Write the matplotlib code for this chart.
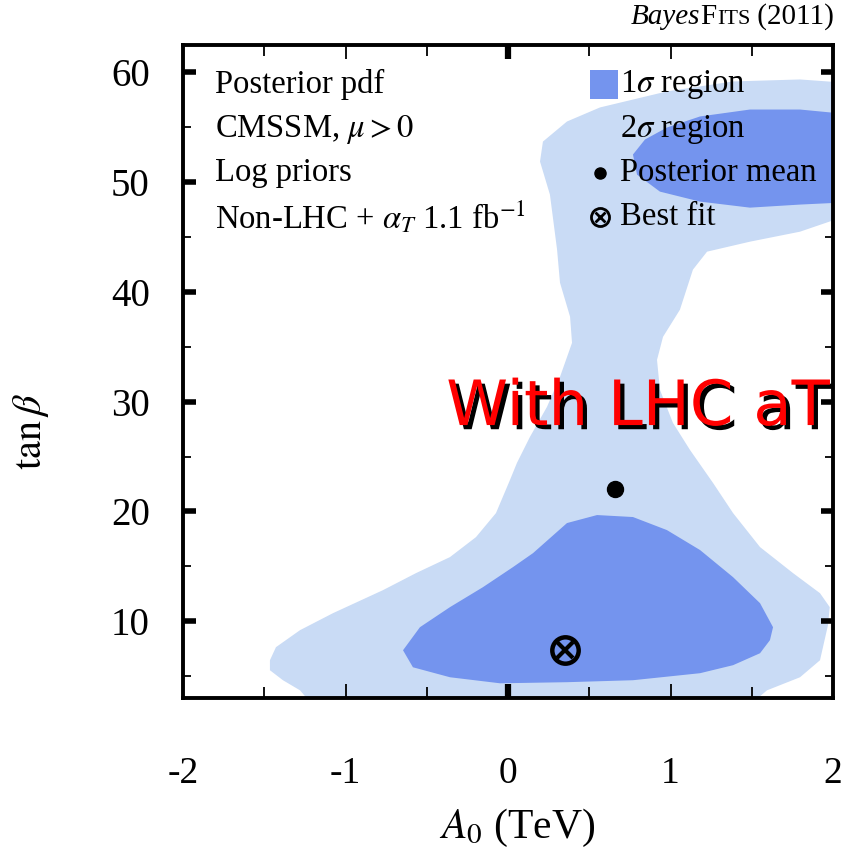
import matplotlib
matplotlib.use("Agg")
import matplotlib.pyplot as plt
from matplotlib.patches import Polygon, Rectangle
import matplotlib.patheffects as pe
from matplotlib.offsetbox import TextArea, HPacker, AnchoredOffsetbox

plt.rcParams['font.family'] = ['Liberation Serif', 'DejaVu Serif']
plt.rcParams['mathtext.fontset'] = 'stix'

# 2-sigma credible region outline (A0 in TeV, tan beta)
sigma2_a0 = [-1.465, -1.428, -1.28, -1.077, -0.769, -0.566, -0.357, -0.197, -0.074,
             0.012, 0.055, 0.135, 0.240, 0.320, 0.394, 0.382, 0.320, 0.302, 0.258,
             0.197, 0.215, 0.363, 0.566, 0.978, 1.385, 1.797, 2.05,
             2.05, 1.797, 1.489, 1.225, 1.138, 1.058, 0.954, 0.917, 0.935, 1.015,
             1.120, 1.262, 1.385, 1.551, 1.754, 1.92, 1.98, 1.969, 1.92, 1.797,
             1.594, 1.458, -1.182, -1.28, -1.385, -1.465]
sigma2_tanb = [6.44, 7.63, 9.18, 10.73, 12.83, 14.38, 15.84, 17.66, 19.85,
               22.86, 24.42, 26.79, 29.53, 32.26, 35.36, 37.74, 40.84, 43.85, 48.87,
               51.88, 53.70, 55.53, 56.81, 58.27, 59.18, 59.36, 59.09,
               46.77, 45.49, 44.58, 43.67, 42.03, 38.38, 35.91, 33.81, 31.08, 28.07,
               25.60, 22.59, 19.85, 16.75, 14.38, 12.55, 11.28, 9.63, 6.44, 4.89,
               3.70, 2.0, 2.0, 3.70, 4.62, 5.53]

# 1-sigma credible region, low tan beta island
sigma1_low_a0 = [-0.646, -0.542, -0.357, -0.154, 0.031, 0.154, 0.363, 0.548, 0.769,
                 0.978, 1.182, 1.385, 1.551, 1.631, 1.612, 1.551, 1.385, 1.182,
                 0.769, 0.363, -0.049, -0.357, -0.585]
sigma1_low_tanb = [7.35, 9.45, 11.28, 13.10, 14.93, 16.20, 18.94, 19.67, 19.49,
                   18.30, 16.48, 14.01, 11.64, 9.45, 8.27, 7.08, 5.99, 5.26,
                   4.62, 4.44, 4.34, 4.89, 5.80]

# 1-sigma credible region, high tan beta island
sigma1_high_a0 = [0.769, 0.843, 0.978, 1.182, 1.489, 1.797, 2.05, 2.05, 1.797,
                  1.489, 1.182, 0.935, 0.794]
sigma1_high_tanb = [52.52, 53.89, 54.98, 55.99, 56.62, 56.62, 56.26, 48.14, 47.96,
                    47.68, 48.23, 49.14, 50.69]

mean_a0, mean_tanb = 0.66, 22.0
best_a0, best_tanb = 0.35, 7.4

x_major = [-2, -1, 0, 1, 2]
x_minor = [-1.5, -0.5, 0.5, 1.5]
y_major = [10, 20, 30, 40, 50, 60]
y_minor = [5, 15, 25, 35, 45, 55]

light = '#c9dbf5'
dark = '#7494ee'

fig = plt.figure(figsize=(8.55, 8.51), dpi=100)
ax = fig.add_axes([183 / 855, 1 - 698 / 851, 650 / 855, 653 / 851])
ax.set_xlim(-2, 2)
ax.set_ylim(3.0, 62.5)

ax.add_patch(Polygon(list(zip(sigma2_a0, sigma2_tanb)), closed=True,
                     facecolor=light, edgecolor='none', zorder=1))
ax.add_patch(Polygon(list(zip(sigma1_low_a0, sigma1_low_tanb)), closed=True,
                     facecolor=dark, edgecolor='none', zorder=2))
ax.add_patch(Polygon(list(zip(sigma1_high_a0, sigma1_high_tanb)), closed=True,
                     facecolor=dark, edgecolor='none', zorder=2))

ax.plot([mean_a0], [mean_tanb], 'o', color='black', markersize=11.5, zorder=5)
ax.plot([best_a0], [best_tanb], 'o', mfc='none', mec='black', mew=3.2,
        markersize=19, zorder=5)
ax.plot([best_a0], [best_tanb], 'x', color='black', mew=3, markersize=11, zorder=5)

# ticks
ax.set_xticks(x_major)
ax.set_xticklabels(['-2', '-1', '0', '1', '2'])
ax.set_xticks(x_minor, minor=True)
ax.set_yticks(y_major)
ax.set_yticks(y_minor, minor=True)
ax.tick_params(which='both', direction='in', top=True, right=True)
ax.tick_params(axis='x', which='major', length=10, width=1.3, labelsize=27, pad=42)
ax.tick_params(axis='x', which='minor', length=8, width=1.3)
ax.tick_params(axis='y', which='major', length=9, width=4, labelsize=28, pad=24)
ax.tick_params(axis='y', which='minor', length=6, width=1.3)
for t in ax.xaxis.get_major_ticks():
    if t.get_loc() == 0:
        t.tick1line.set_markeredgewidth(4.5)
        t.tick2line.set_markeredgewidth(4.5)
for s in ax.spines.values():
    s.set_linewidth(2.8)

# annotation block
fs = 23.5
left_lines = ['Posterior pdf', r'CMSSM, $\mu > 0$', 'Log priors',
              r'Non-LHC + $\alpha_T$ 1.1 fb$^{-1}$']
rows = [0.939, 0.871, 0.804, 0.737]
for txt, yy in zip(left_lines, rows):
    ax.text(0.049, yy, txt, transform=ax.transAxes, fontsize=fs,
            va='center', ha='left', zorder=6)

ax.add_patch(Rectangle((0.626, 0.918), 0.043, 0.043, transform=ax.transAxes,
                       facecolor=dark, edgecolor='none', zorder=6))
ax.add_patch(Rectangle((0.626, 0.850), 0.043, 0.043, transform=ax.transAxes,
                       facecolor=light, edgecolor='none', zorder=6))
ax.plot([0.641], [rows[2]], 'o', color='black', markersize=8,
        transform=ax.transAxes, zorder=6, clip_on=False)
ax.plot([0.641], [rows[3]], 'o', mfc='none', mec='black', mew=2,
        markersize=13, transform=ax.transAxes, zorder=6, clip_on=False)
ax.plot([0.641], [rows[3]], 'x', color='black', mew=2,
        markersize=7, transform=ax.transAxes, zorder=6, clip_on=False)
legend_lines = [r'1$\sigma$ region', r'2$\sigma$ region', 'Posterior mean', 'Best fit']
for txt, yy in zip(legend_lines, rows):
    ax.text(0.673, yy, txt, transform=ax.transAxes, fontsize=fs,
            va='center', ha='left', zorder=7)

# axis labels
fig.text(31 / 855, 1 - 432 / 851, r'$\tan\beta$', rotation=90, fontsize=29,
         ha='center', va='center')
fig.text(517 / 855, 1 - 828 / 851, r'$A_0$ (TeV)', fontsize=30,
         ha='center', va='center')

# header
parts = [TextArea('Bayes', textprops=dict(fontsize=21, style='italic')),
         TextArea('F', textprops=dict(fontsize=21)),
         TextArea('ITS', textprops=dict(fontsize=16)),
         TextArea(' (2011)', textprops=dict(fontsize=21))]
hbox = HPacker(children=parts, align='baseline', pad=0, sep=0)
anch = AnchoredOffsetbox(loc='lower right', child=hbox, pad=0, borderpad=0,
                         frameon=False, bbox_to_anchor=(834 / 855, 1 - 30 / 851),
                         bbox_transform=fig.transFigure)
fig.add_artist(anch)

# overlay caption
ax.text(0.995, 0.444, 'With LHC aT', transform=ax.transAxes, fontsize=45,
        color='#ff0000', ha='right', va='center', fontfamily='DejaVu Sans',
        zorder=8,
        path_effects=[pe.withSimplePatchShadow(offset=(3, -3), shadow_rgbFace='black',
                                               alpha=1.0)])

fig.savefig('out.png', dpi=100)
